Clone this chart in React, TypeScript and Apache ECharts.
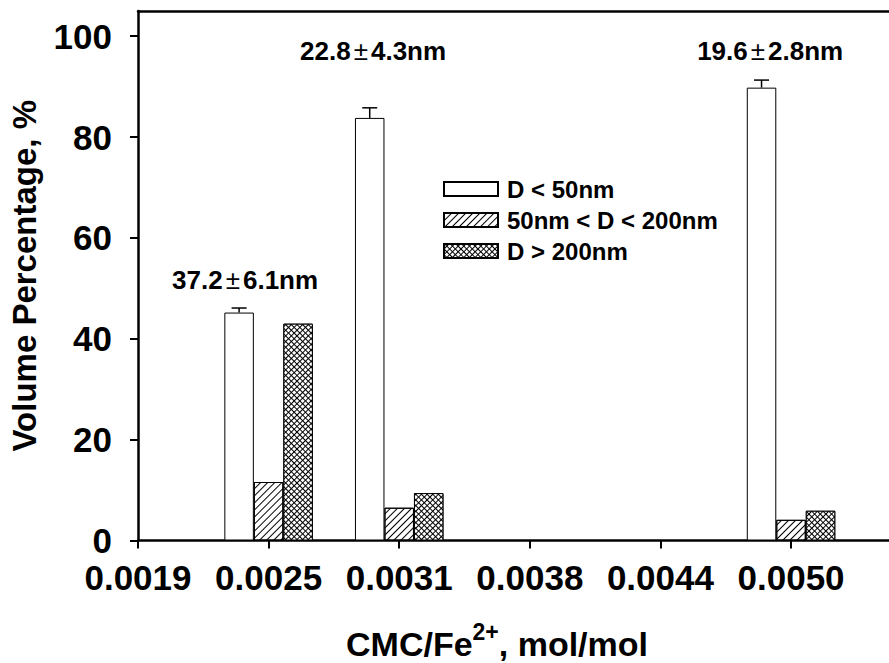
import React, { useEffect, useRef } from "react";
import * as echarts from "echarts";

// CMC/Fe2+ ratio tick labels (one per axis step)
const ratioLabels = ["0.0019", "0.0025", "0.0031", "0.0038", "0.0044", "0.0050"];
// position of each measured sample on the ratio axis (tick index)
const samplePos = [1, 2, 5];

// volume percentage per size class
const smallPct = [45.2, 83.8, 89.8]; // D < 50nm
const smallErr = [0.9, 2.0, 1.5];
const midPct = [11.6, 6.5, 4.1]; // 50nm < D < 200nm
const largePct = [43.0, 9.4, 5.9]; // D > 200nm

// mean particle size annotations
const sizeMean = ["37.2", "22.8", "19.6"];
const sizeSd = ["6.1", "4.3", "2.8"];
const noteAt = [
  [0.82, 51.6],
  [1.8, 97.1],
  [4.84, 97.1],
];

const yTicks = [0, 20, 40, 60, 80, 100];
const xTicks = [0, 1, 2, 3, 4, 5];

const FONT = "'Liberation Sans', Arial, sans-serif";
const BAR_W = 29.5;

export default function App() {
  const ref = useRef<HTMLDivElement>(null);

  useEffect(() => {
    if (!ref.current) return;
    const chart = echarts.init(ref.current, null, { renderer: "svg" });

    const axisLine = { show: true, lineStyle: { color: "#000", width: 2.5 } };
    const tickFont = { fontFamily: FONT, fontWeight: "bold" as const, fontSize: 35, color: "#000" };

    const hatch = {
      symbol: "rect",
      symbolSize: 1,
      color: "#000",
      dashArrayX: [1, 0],
      dashArrayY: [1, 3.2],
      rotation: -Math.PI / 4,
    };
    const cross = {
      symbol: "rect",
      symbolSize: 1,
      color: "#fff",
      dashArrayX: [3, 1],
      dashArrayY: [3, 1],
      rotation: Math.PI / 4,
    };

    chart.setOption({
      animation: false,
      backgroundColor: "#fff",
      grid: { left: 134, top: 11, right: 0, height: 529.5 },
      legend: {
        orient: "vertical",
        left: 443,
        top: 177,
        padding: 0,
        itemWidth: 54,
        itemHeight: 14,
        itemGap: 7,
        icon: "rect",
        textStyle: {
          fontFamily: FONT,
          fontWeight: "bold",
          fontSize: 24,
          color: "#000",
          padding: [0, 0, 0, 4],
        },
        data: ["D < 50nm", "50nm < D < 200nm", "D > 200nm"],
      },
      xAxis: [
        {
          type: "value",
          min: 0,
          max: 5.75,
          interval: 1,
          axisLine,
          splitLine: { show: false },
          axisTick: { show: true, length: 8, lineStyle: { color: "#000", width: 2 }, customValues: xTicks },
          axisLabel: {
            ...tickFont,
            margin: 19,
            customValues: xTicks,
            formatter: (v: number) => ratioLabels[Math.round(v)] ?? "",
          },
        },
        {
          type: "value",
          min: 0,
          max: 5.75,
          position: "top",
          axisLine,
          splitLine: { show: false },
          axisTick: { show: false },
          axisLabel: { show: false },
        },
      ],
      yAxis: {
        type: "value",
        min: 0,
        max: 105,
        axisLine,
        splitLine: { show: false },
        axisTick: { show: true, length: 8, lineStyle: { color: "#000", width: 2 }, customValues: yTicks },
        axisLabel: { ...tickFont, margin: 26, customValues: yTicks },
        name: "Volume Percentage, %",
        nameLocation: "middle",
        nameRotate: 90,
        nameGap: 97,
        nameTextStyle: { fontFamily: FONT, fontWeight: "bold", fontSize: 33, color: "#000" },
      },
      graphic: [
        {
          type: "text",
          x: 497,
          y: 640.5,
          style: {
            text: "{a|CMC/Fe}{s|2+}{a|, mol/mol}",
            align: "center",
            verticalAlign: "middle",
            rich: {
              a: {
                fontFamily: FONT,
                fontWeight: "bold",
                fontSize: 34,
                lineHeight: 41,
                color: "#000",
                verticalAlign: "bottom",
              },
              s: {
                fontFamily: FONT,
                fontWeight: "bold",
                fontSize: 23,
                lineHeight: 23,
                color: "#000",
                verticalAlign: "top",
              },
            },
          },
        },
      ],
      series: [
        {
          name: "D < 50nm",
          type: "bar",
          barWidth: BAR_W,
          barGap: "0%",
          itemStyle: { color: "#fff", borderColor: "#000", borderWidth: 1 },
          data: samplePos.map((x, i) => [x, smallPct[i]]),
        },
        {
          name: "50nm < D < 200nm",
          type: "bar",
          barWidth: BAR_W,
          barGap: "0%",
          itemStyle: { color: "#fff", borderColor: "#000", borderWidth: 1, decal: hatch },
          data: samplePos.map((x, i) => [x, midPct[i]]),
        },
        {
          name: "D > 200nm",
          type: "bar",
          barWidth: BAR_W,
          barGap: "0%",
          itemStyle: { color: "#000", borderColor: "#000", borderWidth: 1, decal: cross },
          data: samplePos.map((x, i) => [x, largePct[i]]),
        },
        {
          type: "custom",
          z: 5,
          encode: { x: 0, y: 1 },
          data: samplePos.map((x, i) => [x, smallPct[i], smallErr[i]]),
          renderItem: (_p: any, api: any) => {
            const x = api.value(0);
            const y = api.value(1);
            const e = api.value(2);
            const base = api.coord([x, y]);
            const top = api.coord([x, y + e]);
            const cx = base[0] - BAR_W;
            const st = { stroke: "#000", lineWidth: 1.5 };
            return {
              type: "group",
              children: [
                { type: "line", shape: { x1: cx, y1: base[1], x2: cx, y2: top[1] }, style: st },
                { type: "line", shape: { x1: cx - 7.5, y1: top[1], x2: cx + 7.5, y2: top[1] }, style: st },
              ],
            };
          },
        },
        {
          type: "scatter",
          symbolSize: 0,
          z: 6,
          itemStyle: { opacity: 1 },
          data: noteAt.map((p, i) => [p[0], p[1], i]),
          label: {
            show: true,
            position: "inside",
            color: "#000",
            formatter: (p: any) => {
              const i = p.value[2];
              return `{b|${sizeMean[i]}}{pm|±}{b|${sizeSd[i]}nm}`;
            },
            rich: {
              b: { fontFamily: FONT, fontWeight: "bold", fontSize: 26, color: "#000" },
              pm: { fontFamily: FONT, fontWeight: "normal", fontSize: 26, color: "#000", padding: [0, 3, 0, 3] },
            },
          },
          emphasis: { disabled: true },
        },
      ],
    });

    return () => chart.dispose();
  }, []);

  return (
    <div
      ref={ref}
      style={{ position: "absolute", left: 0, top: 0, width: 889, height: 663 }}
    />
  );
}
